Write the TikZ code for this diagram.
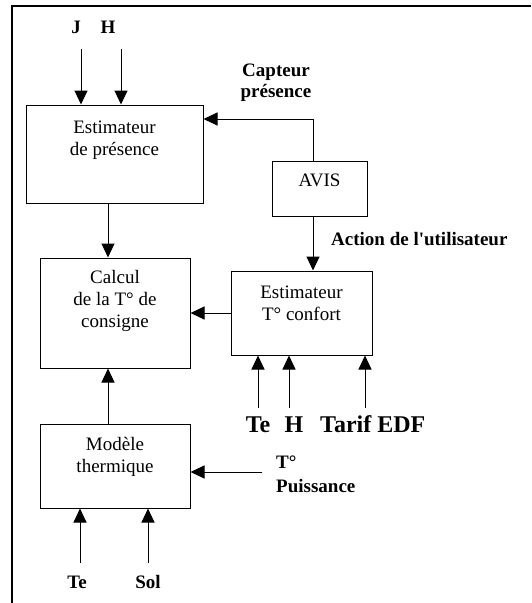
\documentclass[tikz,border=0pt]{standalone}
\usepackage{fontspec}
\setmainfont{Liberation Serif}
\newfontfamily\straightq{Liberation Serif}[Ligatures=TeXOff]
\usetikzlibrary{arrows.meta}
\begin{document}
\begin{tikzpicture}[x=1pt,y=-1pt,
  box/.style={draw, line width=1pt, inner sep=0pt},
  boxtxt/.style={font=\fontsize{19}{22}\selectfont, anchor=base, inner sep=0pt},
  lbl/.style={font=\fontsize{19}{22}\selectfont\bfseries, anchor=base, inner sep=0pt},
  biglbl/.style={font=\fontsize{24}{28}\selectfont\bfseries, anchor=base, inner sep=0pt},
  arr/.style={line width=1pt, -{Triangle[length=14pt,width=13pt]}}]
\useasboundingbox (0,0) rectangle (531,603);
% frame
\draw[line width=2.2pt] (12,603) -- (12,6) -- (531,6);

% boxes
\node[box, minimum width=177pt, minimum height=98pt] (pres) at (114.5,154) {};
\node[box, minimum width=95pt, minimum height=55pt] (avis) at (319.5,188.5) {};
\node[box, minimum width=150pt, minimum height=110pt] (calc) at (115,313) {};
\node[box, minimum width=141pt, minimum height=84pt] (conf) at (301.5,313) {};
\node[box, minimum width=150pt, minimum height=84pt] (mod) at (115,466) {};

% box texts
\node[boxtxt] (pres1) at (114.5,133) {Estimateur};
\node[boxtxt] (pres2) at (114.5,155) {de présence};
\node[boxtxt] (avist) at (319.5,186) {AVIS};
\node[boxtxt] (calc1) at (115,283) {Calcul};
\node[boxtxt] (calc2) at (115,305) {de la T° de};
\node[boxtxt] (calc3) at (115,327) {consigne};
\node[boxtxt] (conf1) at (301.5,298) {Estimateur};
\node[boxtxt] (conf2) at (301.5,320) {T° confort};
\node[boxtxt] (mod1) at (115,450) {Modèle};
\node[boxtxt] (mod2) at (115,472) {thermique};

% labels
\node[lbl] (lJ) at (76,33) {J};
\node[lbl] (lH) at (108,33) {H};
\node[lbl] (lcap1) at (276,76) {Capteur};
\node[lbl] (lcap2) at (276,97) {présence};
\node[lbl, anchor=base west] (lact) at (331,245) {\straightq\bfseries Action de l'utilisateur};
\node[biglbl] (lTe) at (258,432) {Te};
\node[biglbl] (lH2) at (294,432) {H};
\node[biglbl, anchor=base west] (lEDF) at (320,432) {Tarif EDF};
\node[lbl, anchor=base west] (lT) at (276,468) {T°};
\node[lbl, anchor=base west] (lP) at (276,492) {Puissance};
\node[lbl] (lTe2) at (77,588) {Te};
\node[lbl] (lSol) at (148,588) {Sol};

% connector free ends
\coordinate (inJ) at (81,49);
\coordinate (inH) at (121,49);
\coordinate (ca) at (313,119);
\coordinate (x108) at (108,0);
\coordinate (inTe) at (258,408);
\coordinate (inH2) at (289,408);
\coordinate (inEDF) at (365,408);
\coordinate (inTP) at (262,472);
\coordinate (inTe2) at (80,563);
\coordinate (inSol) at (148,563);

% connectors
\draw[arr] (inJ) -- (inJ |- pres.north);
\draw[arr] (inH) -- (inH |- pres.north);
\draw[arr] (ca |- avis.north) -- (ca) -- (ca -| pres.east);
\draw[arr] (pres.south -| x108) -- (calc.north -| x108);
\draw[arr] (ca |- avis.south) -- (ca |- conf.north);
\draw[arr] (conf.west) -- (calc.east);
\draw[arr] (inTe) -- (inTe |- conf.south);
\draw[arr] (inH2) -- (inH2 |- conf.south);
\draw[arr] (inEDF) -- (inEDF |- conf.south);
\draw[arr] (mod.north -| x108) -- (calc.south -| x108);
\draw[arr] (inTP) -- (inTP -| mod.east);
\draw[arr] (inTe2) -- (inTe2 |- mod.south);
\draw[arr] (inSol) -- (inSol |- mod.south);
\end{tikzpicture}
\end{document}
